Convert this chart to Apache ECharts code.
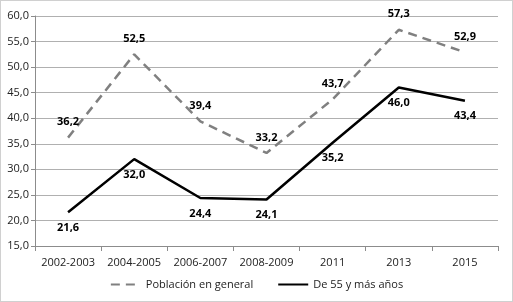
<!DOCTYPE html>
<html><head><meta charset="utf-8">
<script src="https://cdn.jsdelivr.net/npm/echarts@6/dist/echarts.min.js"></script>
<style>html,body{margin:0;padding:0;background:#fff}#c{width:513px;height:302px;box-sizing:border-box;border:1px solid #d0d0d0}</style>
</head><body><div id="c"></div>
<script>
const categories = ['2002-2003','2004-2005','2006-2007','2008-2009','2011','2013','2015'];
const poblacionGeneral = [36.2, 52.5, 39.4, 33.2, 43.7, 57.3, 52.9];
const de55yMas = [21.6, 32.0, 24.4, 24.1, 35.2, 46.0, 43.4];
const seriesNames = ['Población en general', 'De 55 y más años'];
const yMin = 15, yMax = 60, yStep = 5;

const fmt = v => Number(v).toFixed(1).replace('.', ',');
const font = 'Open Sans';
const chart = echarts.init(document.getElementById('c'), null, {renderer:'canvas'});
chart.setOption({
  animation: false,
  grid: {left: 34, right: 14, top: 15, bottom: 55, containLabel: false},
  legend: {
    bottom: 6, left: 'center', itemWidth: 30, itemHeight: 10, itemGap: 24,
    itemStyle: {opacity: 0},
    textStyle: {fontFamily: font, fontSize: 11, color: '#222'},
    data: seriesNames
  },
  xAxis: {
    type: 'category', data: categories, boundaryGap: true,
    axisLine: {lineStyle: {color: '#8c8c8c', width: 1}},
    axisTick: {show: true, length: 5, lineStyle: {color: '#8c8c8c'}},
    axisLabel: {fontFamily: font, fontSize: 11, color: '#222', margin: 11, interval: 0}
  },
  yAxis: {
    type: 'value', min: yMin, max: yMax, interval: yStep,
    axisLine: {show: true, lineStyle: {color: '#8c8c8c', width: 1}},
    axisTick: {show: true, length: 4, lineStyle: {color: '#8c8c8c'}},
    splitLine: {lineStyle: {color: '#b0b0b0', width: 1}},
    axisLabel: {fontFamily: font, fontSize: 11, color: '#222', margin: 6, formatter: fmt}
  },
  series: [
    {
      name: seriesNames[0], type: 'line', data: poblacionGeneral,
      symbol: 'circle', symbolSize: 0, showSymbol: true,
      lineStyle: {color: '#808080', width: 2.5, type: [9, 6]},
      itemStyle: {color: '#808080'},
      label: {show: true, position: 'top', distance: 10, opacity: 1, formatter: p => fmt(p.value),
        fontFamily: font, fontSize: 11, fontWeight: 'bold', color: '#000'}
    },
    {
      name: seriesNames[1], type: 'line', data: de55yMas,
      symbol: 'circle', symbolSize: 0, showSymbol: true,
      lineStyle: {color: '#000', width: 2.5},
      itemStyle: {color: '#000'},
      label: {show: true, position: 'bottom', distance: 10, opacity: 1, formatter: p => fmt(p.value),
        fontFamily: font, fontSize: 11, fontWeight: 'bold', color: '#000'}
    }
  ]
});
</script></body></html>
